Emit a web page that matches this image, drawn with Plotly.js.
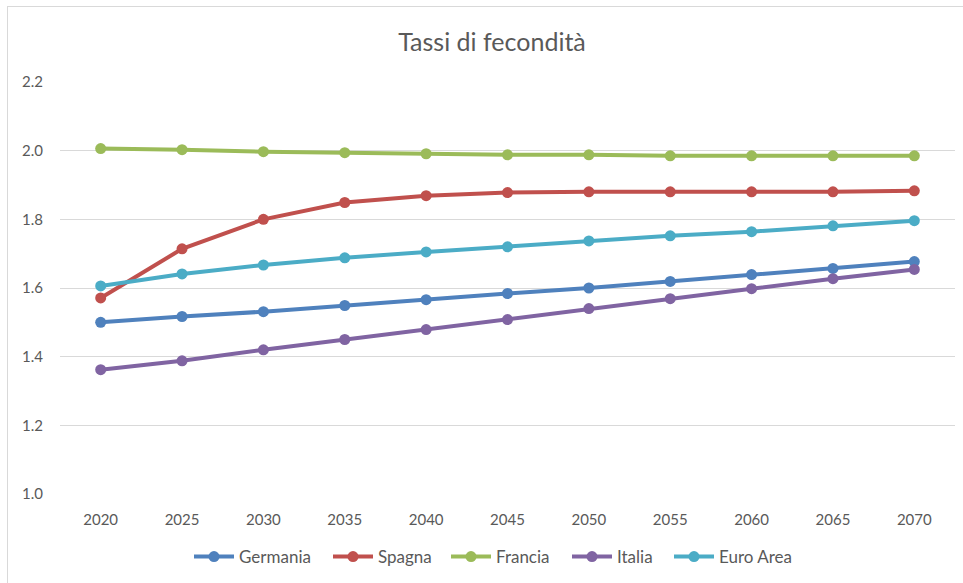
<!DOCTYPE html>
<html>
<head>
<meta charset="utf-8">
<script src="https://cdn.plot.ly/plotly-3.0.1.min.js"></script>
<style>
  html, body { margin: 0; padding: 0; background: #ffffff; }
  #wrap { position: relative; width: 963px; height: 583px; overflow: hidden; }
  #frame { position: absolute; left: 7px; top: 6px; width: 980px; height: 600px;
           border-left: 1px solid #d9d9d9; border-top: 1px solid #d9d9d9; pointer-events: none; }
  #chart { position: absolute; left: 0; top: 0; width: 963px; height: 583px; }
</style>
</head>
<body>
<div id="wrap">
  <div id="chart"></div>
  <div id="frame"></div>
</div>
<script>
// Total fertility rate projections, 2020-2070
const years = ['2020', '2025', '2030', '2035', '2040', '2045', '2050', '2055', '2060', '2065', '2070'];

const germania = [1.50, 1.517, 1.531, 1.549, 1.566, 1.584, 1.600, 1.619, 1.639, 1.657, 1.677];
const spagna   = [1.571, 1.714, 1.800, 1.849, 1.869, 1.878, 1.880, 1.880, 1.880, 1.880, 1.883];
const francia  = [2.006, 2.003, 1.997, 1.994, 1.991, 1.988, 1.988, 1.985, 1.985, 1.985, 1.985];
const italia   = [1.362, 1.388, 1.420, 1.450, 1.479, 1.508, 1.540, 1.569, 1.598, 1.627, 1.654];
const euroArea = [1.606, 1.641, 1.667, 1.688, 1.705, 1.720, 1.737, 1.752, 1.764, 1.781, 1.796];

const seriesNames = ['Germania', 'Spagna', 'Francia', 'Italia', 'Euro Area'];
const seriesValues = [germania, spagna, francia, italia, euroArea];
const seriesColors = ['#4F81BD', '#C0504D', '#9BBB59', '#8064A2', '#4BACC6'];

const yTicks = [1.0, 1.2, 1.4, 1.6, 1.8, 2.0, 2.2];

const font = 'Lato, "Open Sans", "Liberation Sans", sans-serif';

// Plot area in pixels: left 60, right 955 (width 895)
const plotLeft = 60, plotWidth = 895;
// left edge of each legend entry, in pixels
const legendLeft = [189, 328, 446, 567, 669];

const traces = seriesNames.map((name, i) => ({
  type: 'scatter',
  mode: 'lines+markers',
  name: name,
  x: years,
  y: seriesValues[i],
  line: { color: seriesColors[i], width: 4 },
  marker: { color: seriesColors[i], size: 11 },
  legend: i === 0 ? 'legend' : 'legend' + (i + 1)
}));

const layout = {
  width: 963,
  height: 583,
  paper_bgcolor: 'rgba(0,0,0,0)',
  plot_bgcolor: 'rgba(0,0,0,0)',
  margin: { l: 60, r: 8, t: 82, b: 89 },
  font: { family: font, color: '#595959', size: 15 },
  title: {
    text: 'Tassi di fecondità',
    font: { family: font, size: 25, color: '#595959' },
    x: 492 / 963, xanchor: 'center', xref: 'container',
    y: 1 - 42 / 583, yanchor: 'middle', yref: 'container'
  },
  xaxis: {
    type: 'category',
    range: [-0.5, 10.5],
    showgrid: false,
    zeroline: false,
    showline: false,
    ticks: 'outside',
    ticklen: 12,
    tickcolor: 'rgba(0,0,0,0)',
    tickfont: { family: font, size: 15, color: '#595959' },
    fixedrange: true
  },
  yaxis: {
    range: [1.0, 2.2],
    tickvals: yTicks,
    ticktext: yTicks.map(v => v.toFixed(1)),
    showgrid: true,
    gridcolor: '#d9d9d9',
    gridwidth: 1,
    zeroline: false,
    showline: false,
    ticks: 'outside',
    ticklen: 13,
    tickcolor: 'rgba(0,0,0,0)',
    tickfont: { family: font, size: 15, color: '#595959' },
    fixedrange: true
  },
  showlegend: true
};

// one legend per series so that entries sit at their own positions
legendLeft.forEach((px, i) => {
  const key = i === 0 ? 'legend' : 'legend' + (i + 1);
  layout[key] = {
    orientation: 'h',
    x: (px - plotLeft) / plotWidth, xanchor: 'left',
    y: -(557 - 494) / 412, yanchor: 'middle',
    font: { family: font, size: 17, color: '#595959' },
    itemwidth: 40,
    bgcolor: 'rgba(0,0,0,0)'
  };
});

Plotly.newPlot('chart', traces, layout, { displayModeBar: false, staticPlot: true });
</script>
</body>
</html>
